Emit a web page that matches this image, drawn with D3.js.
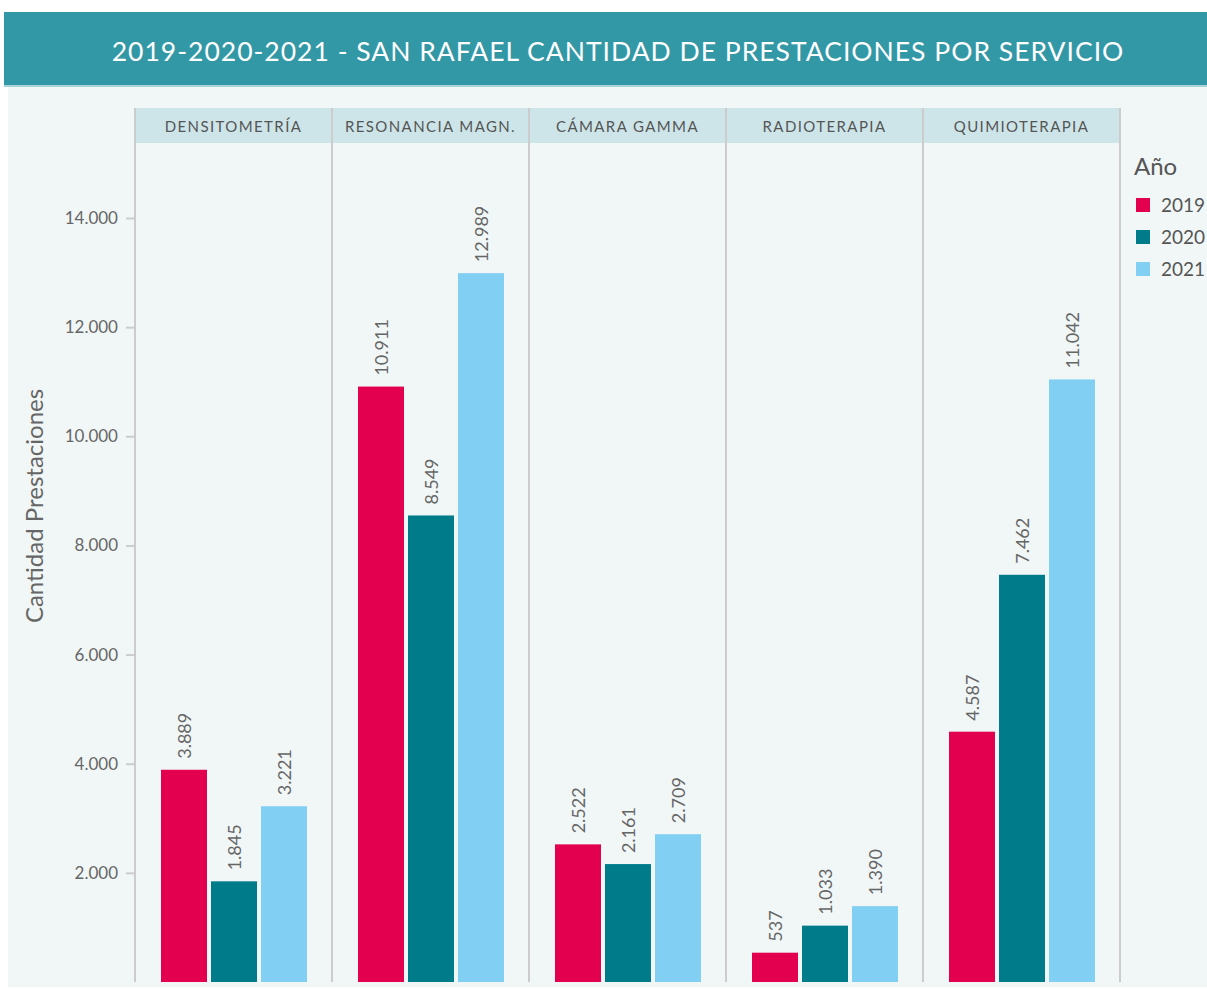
<!DOCTYPE html>
<html><head><meta charset="utf-8">
<script src="https://cdn.jsdelivr.net/npm/d3@7"></script>
<style>body{margin:0;background:#fff;}svg{display:block;font-family:Lato,sans-serif;}</style>
</head><body>
<script>
const services = ["DENSITOMETRÍA","RESONANCIA MAGN.","CÁMARA GAMMA","RADIOTERAPIA","QUIMIOTERAPIA"];
const years = ["2019","2020","2021"];
const values2019 = [3889,10911,2522,537,4587];
const values2020 = [1845,8549,2161,1033,7462];
const values2021 = [3221,12989,2709,1390,11042];
const yTicks = [2000,4000,6000,8000,10000,12000,14000];
const colors = ["#e3004f","#007b8a","#82cff4"];
const series = [values2019, values2020, values2021];

const W = 1207, H = 990;
const svg = d3.select("body").append("svg").attr("width", W).attr("height", H);
const fmt = v => d3.format(",")(v).replace(/,/g,".");

// backgrounds
svg.append("rect").attr("x",8).attr("y",85).attr("width",W-8).attr("height",902).attr("fill","#f1f7f7");
svg.append("rect").attr("x",4).attr("y",12).attr("width",W-4).attr("height",73).attr("fill","#3298a6");
svg.append("rect").attr("x",4).attr("y",85).attr("width",W-4).attr("height",2).attr("fill","#a9d3d9");
svg.append("text").attr("x",618).attr("y",61).attr("text-anchor","middle")
  .attr("fill","#fff").attr("font-size",26.5).attr("letter-spacing",1)
  .text("2019-2020-2021 - SAN RAFAEL CANTIDAD DE PRESTACIONES POR SERVICIO");

const plotTop = 108, stripH = 35, plotLeft = 135, plotRight = 1120;
const y = d3.scaleLinear().domain([0,14000]).range([982,218]);
const fx = d3.scaleBand().domain(services).range([plotLeft, plotRight]).padding(0);
const x = d3.scaleBand().domain(years).range([24, fx.bandwidth()-23]).paddingInner(0.08).paddingOuter(0.04);

// strip
svg.append("rect").attr("x",plotLeft).attr("y",plotTop).attr("width",plotRight-plotLeft).attr("height",stripH).attr("fill","#cde5e9");
svg.selectAll(".stripTxt").data(services).join("text")
  .attr("x", d=>fx(d)+fx.bandwidth()/2).attr("y", plotTop+stripH/2+6)
  .attr("text-anchor","middle").attr("font-size",15).attr("letter-spacing",1.4).attr("fill","#555").text(d=>d);

// separators
const seps = services.map(d=>fx(d)).concat([plotRight]);
svg.selectAll(".sep").data(seps).join("line")
  .attr("x1",d=>d).attr("x2",d=>d).attr("y1",plotTop).attr("y2",982)
  .attr("stroke","#cccccc").attr("stroke-width",2);

// y axis
const yAxis = d3.axisLeft(y).tickValues(yTicks).tickSize(8).tickPadding(8).tickFormat(fmt);
const ga = svg.append("g").attr("transform",`translate(${plotLeft-1},0)`).call(yAxis);
ga.select(".domain").remove();
ga.selectAll(".tick line").attr("stroke","#cccccc").attr("stroke-width",2);
ga.selectAll(".tick text").attr("fill","#666").attr("font-size",17).attr("font-family","Lato,sans-serif");

svg.append("text").attr("transform","translate(43,506) rotate(-90)").attr("text-anchor","middle")
  .attr("fill","#666").attr("font-size",24).text("Cantidad Prestaciones");

// bars
services.forEach((s,i)=>{
  const g = svg.append("g").attr("transform",`translate(${fx(s)},0)`);
  years.forEach((yr,j)=>{
    const v = series[j][i];
    g.append("rect").attr("x",x(yr)).attr("y",y(v)).attr("width",x.bandwidth()).attr("height",y(0)-y(v))
      .attr("fill",colors[j]);
    g.append("text").attr("transform",`translate(${x(yr)+x.bandwidth()/2+6.5},${y(v)-11}) rotate(-90)`)
      .attr("fill","#666").attr("font-size",18).text(fmt(v));
  });
});

// legend
svg.append("text").attr("x",1134).attr("y",175).attr("fill","#555").attr("font-size",24).text("Año");
years.forEach((yr,j)=>{
  svg.append("rect").attr("x",1136).attr("y",198+j*32).attr("width",14).attr("height",14).attr("fill",colors[j]);
  svg.append("text").attr("x",1161).attr("y",212+j*32).attr("fill","#555").attr("font-size",19).text(yr);
});
</script>
</body></html>
